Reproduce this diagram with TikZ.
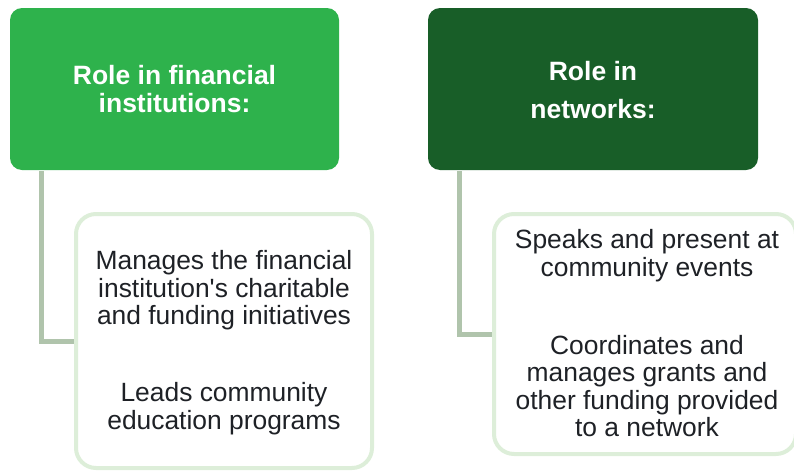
\documentclass[tikz,border=0pt]{standalone}
\usepackage{fontspec}
\setmainfont{Liberation Sans}[Ligatures=TeXOff]
\definecolor{hgreen}{RGB}{46,178,76}
\definecolor{hdark}{RGB}{24,94,40}
\definecolor{connc}{RGB}{176,196,172}
\definecolor{boxb}{RGB}{221,238,217}
\definecolor{txt}{RGB}{30,33,38}
\begin{document}
\begin{tikzpicture}[x=1pt,y=-1pt,
  header/.style={draw=none, rounded corners=12pt, inner sep=0pt, minimum width=#1, minimum height=162pt},
  child/.style={draw=boxb, line width=4pt, fill=white, rounded corners=20pt, inner sep=0pt},
  conn/.style={draw=connc, line width=5pt},
  htext/.style={text=white, font=\bfseries\fontsize{26.5}{28}\selectfont, align=center},
  ctext/.style={text=txt, font=\fontsize{26.4}{27.5}\selectfont, align=center}]
\useasboundingbox (0,0) rectangle (794,471);
% headers
\node[header=329pt, fill=hgreen] (hl) at (174.5,89) {};
\node[header=330pt, fill=hdark] (hr) at (593,89) {};
\node[htext] (hlt) at (174.5,89) {Role in financial\\institutions:};
\node[htext, font=\bfseries\fontsize{26.5}{38}\selectfont] (hrt) at (593,90) {Role in\\networks:};
% child boxes
\node[child, minimum width=296pt, minimum height=254pt] (cl) at (224,341) {};
\node[child, minimum width=302pt, minimum height=240pt] (cr) at (645,334) {};
% connectors
\coordinate (lc) at (41,171);
\coordinate (rc) at (459,171);
\draw[conn] (lc) |- (cl.west);
\draw[conn] (rc) |- (cr.west);
% child texts
\node[ctext] (cl1) at (224,290.5) {Manages the financial\\institution's charitable\\and funding initiatives};
\node[ctext] (cl2) at (224,408.5) {Leads community\\education programs};
\node[ctext] (cr1) at (647,255.5) {Speaks and present at\\community events};
\node[ctext] (cr2) at (647,386) {Coordinates and\\manages grants and\\other funding provided\\to a network};
\end{tikzpicture}
\end{document}
